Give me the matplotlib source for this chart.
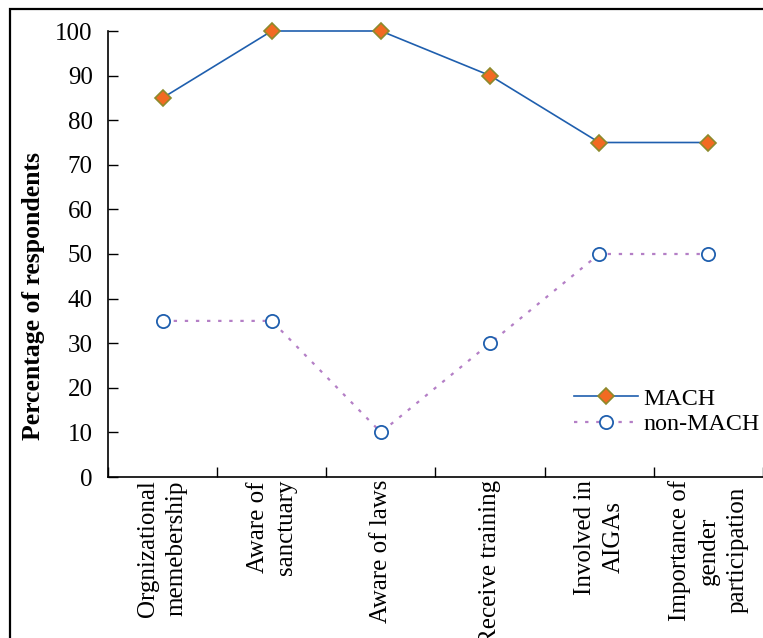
import matplotlib.pyplot as plt
from matplotlib.patches import Rectangle

categories = ["Orgnizational\nmemebership", "Aware of\nsanctuary", "Aware of laws",
              "Receive training", "Involved in\nAIGAs", "Importance of\ngender\nparticipation"]
mach = [85, 100, 100, 90, 75, 75]
non_mach = [35, 35, 10, 30, 50, 50]
yticks = [0, 10, 20, 30, 40, 50, 60, 70, 80, 90, 100]

plt.rcParams['font.family'] = ['Liberation Serif', 'DejaVu Serif']

W, H = 763, 638
fig = plt.figure(figsize=(W / 100, H / 100), dpi=100)
ax = fig.add_axes([108 / W, 1 - 477 / H, (763 - 108) / W, (477 - 31) / H])

x = list(range(len(categories)))
ax.plot(x, mach, color='#1f5fae', lw=1.2, marker='D', ms=7.8,
        mfc='#f26a22', mec='#8c8a2c', mew=1.2, label='MACH', zorder=3, clip_on=False)
ax.plot(x, non_mach, color='#b47fc6', lw=1.6, ls=(0, (1.5, 3.5)), marker='o', ms=9.5,
        mfc='white', mec='#1f5fae', mew=1.3, label='non-MACH', zorder=3, clip_on=False)

ax.set_xlim(-0.5, len(categories) - 0.5)
ax.set_ylim(0, 100)
ax.set_yticks(yticks)
ax.tick_params(axis='y', direction='in', length=7, width=1, labelsize=18, pad=11)

# boundary ticks between categories, labels on the categories
ax.set_xticks([i - 0.5 for i in range(len(categories) + 1)])
ax.set_xticklabels([])
ax.set_xticks(x, minor=True)
ax.set_xticklabels(categories, minor=True, rotation=90, ha='center', va='top',
                   multialignment='center', fontsize=18, linespacing=1.38)
ax.tick_params(axis='x', which='major', direction='in', length=7, width=1)
ax.tick_params(axis='x', which='minor', length=0, pad=2)

for s in ['top', 'right']:
    ax.spines[s].set_visible(False)
for s in ['left', 'bottom']:
    ax.spines[s].set_linewidth(1.2)

fig.text(34 / W, 1 - 296 / H, 'Percentage of respondents', rotation=90,
         ha='center', va='center', fontsize=18.5, fontweight='bold')

leg = ax.legend(loc='upper left', bbox_to_anchor=(574 / W, 1 - 388 / H),
                bbox_transform=fig.transFigure, frameon=False, fontsize=17.3,
                handlelength=2.65, handletextpad=0.25, labelspacing=0.15,
                borderpad=0, borderaxespad=0)

# outer border of the figure
fig.patches.append(Rectangle((10 / W, -0.1), 1.2, 1 - 9 / H + 0.1, transform=fig.transFigure,
                             fill=False, ec='black', lw=1.6))

fig.savefig('out.png', dpi=100)
